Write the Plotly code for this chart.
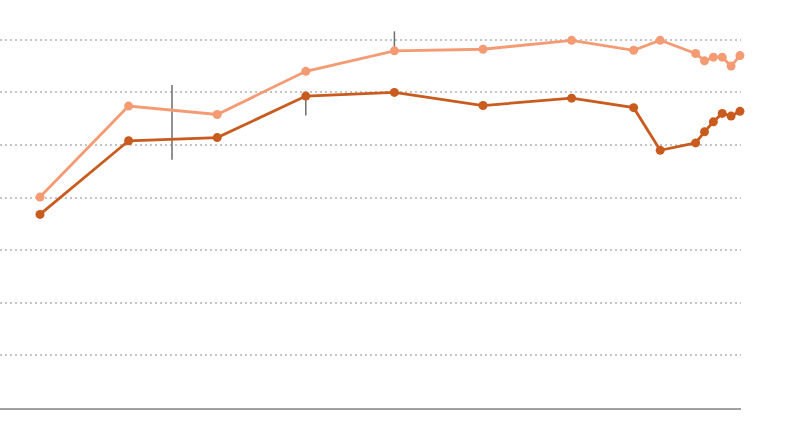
import plotly.graph_objects as go

years = [1980, 1985, 1990, 1995, 2000, 2005, 2010, 2013.5, 2015, 2017, 2017.5, 2018, 2018.5, 2019, 2019.5]
series_light = [40.1, 57.4, 55.8, 64.0, 67.9, 68.2, 69.9, 68.0, 69.9, 67.4, 66.0, 66.7, 66.7, 65.0, 67.0]
series_dark = [36.8, 50.8, 51.4, 59.3, 60.0, 57.5, 58.9, 57.1, 49.0, 50.4, 52.5, 54.4, 56.0, 55.5, 56.4]

event_x = [1987.45, 1995, 2000]
event_y_low = [47.2, 55.6, 67.9]
event_y_high = [61.4, 59.3, 71.6]

grid_vals = [10, 20, 30, 40, 50, 60, 70]

LIGHT = "#F49B74"
DARK = "#C95B1E"

fig = go.Figure()

for ex, lo, hi in zip(event_x, event_y_low, event_y_high):
    fig.add_trace(go.Scatter(x=[ex, ex], y=[lo, hi], mode="lines",
                             line=dict(color="#6e6e6e", width=1.5),
                             hoverinfo="skip", showlegend=False, cliponaxis=False))

fig.add_trace(go.Scatter(x=years, y=series_light, mode="lines+markers",
                         line=dict(color=LIGHT, width=2.8),
                         marker=dict(color=LIGHT, size=9),
                         showlegend=False, cliponaxis=False))
fig.add_trace(go.Scatter(x=years, y=series_dark, mode="lines+markers",
                         line=dict(color=DARK, width=2.8),
                         marker=dict(color=DARK, size=9),
                         showlegend=False, cliponaxis=False))

fig.update_layout(
    width=800, height=447,
    margin=dict(l=0, r=59, t=30, b=39),
    paper_bgcolor="white", plot_bgcolor="white",
    xaxis=dict(range=[1980 - 40 / 17.72, 1980 + 701 / 17.72], showgrid=False,
               zeroline=False, showticklabels=False, ticks="",
               showline=True, linecolor="#a0a0a0", linewidth=1.5),
    yaxis=dict(range=[0, 71.86], tickvals=grid_vals, showticklabels=False,
               showgrid=True, gridcolor="#c4c4c4", gridwidth=1.5, griddash="2px,3px",
               zeroline=False, showline=False, ticks=""),
)

fig.write_html("out.html", config={"displayModeBar": False},
               post_script="document.body.style.margin='0';")
